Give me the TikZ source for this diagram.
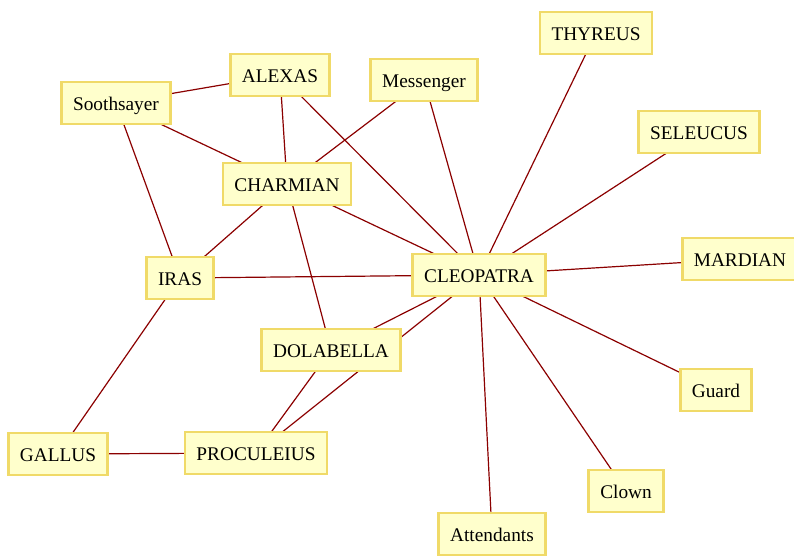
\documentclass[tikz,border=0pt]{standalone}
\usepackage{fontspec}
\setmainfont{Liberation Serif}
\usetikzlibrary{backgrounds}
\definecolor{boxfill}{HTML}{FFFFCC}
\definecolor{boxline}{HTML}{F0DA68}
\definecolor{linkred}{HTML}{8B0000}
\begin{document}
\begin{tikzpicture}[x=1pt,y=-1pt,
  person/.style={draw=boxline, fill=boxfill, line width=2.6pt,
    minimum height=42pt, inner xsep=11.5pt, inner ysep=0pt,
    text height=17pt, text depth=3pt,
    font=\fontsize{19.3}{22}\selectfont, text=black},
  link/.style={draw=linkred, line width=1.2pt}]
\useasboundingbox (0,0) rectangle (794,555);
% characters
\node[person] (thyreus)    at (596,33)  {THYREUS};
\node[person] (seleucus)   at (699,132) {SELEUCUS};
\node[person] (mardian)    at (740,259) {MARDIAN};
\node[person] (guard)      at (716,390) {Guard};
\node[person] (clown)      at (626,491) {Clown};
\node[person] (attendants) at (492,534) {Attendants};
\node[person] (cleopatra)  at (479,275) {CLEOPATRA};
\node[person] (messenger)  at (424,80)  {Messenger};
\node[person] (alexas)     at (280,75)  {ALEXAS};
\node[person] (soothsayer) at (116,103) {Soothsayer};
\node[person] (charmian)   at (287,184) {CHARMIAN};
\node[person] (iras)       at (180,278) {IRAS};
\node[person] (dolabella)  at (331,350) {DOLABELLA};
\node[person] (gallus)     at (58,454)  {GALLUS};
\node[person] (proculeius) at (256,453) {PROCULEIUS};
% relations, drawn behind the boxes
\begin{pgfonlayer}{background}
\foreach \a/\b in {soothsayer/alexas, soothsayer/charmian, soothsayer/iras,
    alexas/charmian, alexas/cleopatra, messenger/charmian, messenger/cleopatra,
    thyreus/cleopatra, seleucus/cleopatra, mardian/cleopatra, guard/cleopatra,
    clown/cleopatra, attendants/cleopatra, charmian/cleopatra, charmian/iras,
    charmian/dolabella, iras/cleopatra, iras/gallus, dolabella/cleopatra,
    dolabella/proculeius, proculeius/cleopatra, gallus/proculeius}
  \draw[link] (\a.center) -- (\b.center);
\end{pgfonlayer}
\end{tikzpicture}
\end{document}
